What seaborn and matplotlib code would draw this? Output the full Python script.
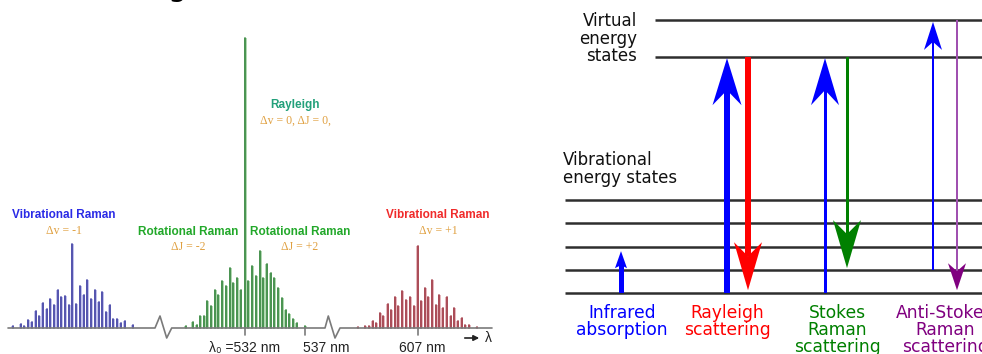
import numpy as np
import pandas as pd
import matplotlib
matplotlib.use("Agg")
import matplotlib.pyplot as plt
import seaborn as sns
from matplotlib.patches import Polygon, Rectangle

sns.set_theme(style="white")
plt.rcParams['font.family'] = ['DejaVu Sans']

# ---------------- spectrum data (position along broken wavelength axis, intensity)
blue_x = [12.7, 20.7, 24.0, 28.0, 31.7, 35.7, 39.0, 42.7, 46.7, 50.0, 54.0, 57.7, 61.3, 65.0,
          69.0, 72.3, 76.0, 80.0, 83.7, 87.3, 91.3, 95.0, 98.7, 102.3, 106.0, 109.7, 113.3,
          117.0, 120.7, 124.7, 132.7]
blue_h = [2, 4, 2, 8, 6, 17, 12, 25, 19, 29, 23, 38, 31, 32, 23, 84, 24, 42, 33, 48, 29, 38,
          26, 36, 16, 23, 9, 9, 5, 7, 3]

green_x = [185.7, 192.7, 196.7, 200.0, 204.0, 207.3, 211.0, 215.0, 218.3, 222.3, 226.0, 230.0,
           233.3, 237.3, 240.7, 245.0, 248.3, 252.3, 256.0, 260.0, 263.3, 266.7, 270.7, 274.3,
           278.3, 282.3, 285.7, 289.3, 293.3, 296.7, 305.0]
green_h = [2, 6, 3, 12, 12, 27, 22, 38, 33, 47, 42, 60, 45, 50, 38, 290, 47, 62, 52, 77, 50,
           64, 55, 50, 40, 30, 18, 14, 9, 5, 2]

red_x = [357.7, 365.0, 369.0, 372.7, 376.0, 380.0, 383.3, 387.7, 391.0, 395.0, 398.3, 402.3,
         406.0, 410.0, 414.0, 417.7, 421.0, 425.0, 428.3, 432.3, 436.0, 439.3, 442.7, 446.7,
         450.7, 454.3, 457.7, 461.7, 465.0, 469.0, 476.7]
red_h = [1, 2, 2.3, 7.3, 5, 15, 11.7, 24, 18.3, 30.7, 21.7, 37.3, 28.3, 30.7, 21.7, 81.7, 26.7,
         40, 30.7, 47.7, 23.3, 33.3, 20, 30.7, 11.7, 20, 6.7, 10, 2.7, 3.3, 1]

tick_pos = [245, 305, 418]
tick_labels = ["λ₀ =532 nm", "537 nm", "607 nm"]

# ---------------- energy diagram data (energy units)
vib_levels = [0, 1, 2, 3, 4]
virtual_levels = [10.15, 11.75]
bottom_labels = ["Infrared\nabsorption", "Rayleigh\nscattering",
                 "Stokes\nRaman\nscattering", "Anti-Stokes\nRaman\nscattering"]

fig = plt.figure(figsize=(9.82, 3.54), dpi=100)

# ================= left panel: spectrum =================
ax1 = fig.add_axes([0, 0, 500 / 982, 1])
ax1.set_xlim(0, 500)
ax1.set_ylim(-26, 328)
ax1.axis('off')


def sticks(xs, hs):
    rows = []
    for i, (x, h) in enumerate(zip(xs, hs)):
        rows.append((i, x, 0.0))
        rows.append((i, x, h))
    return pd.DataFrame(rows, columns=['id', 'x', 'y'])


groups = [(blue_x, blue_h, '#4646a6', '#c2c2ec'),
          (green_x, green_h, '#3c8a44', '#b2d8b2'),
          (red_x, red_h, '#a33e4a', '#e6b8be')]
for xs, hs, dark, light in groups:
    ax1.bar(xs, hs, width=3.0, color=light, linewidth=0, zorder=1)
    sns.lineplot(data=sticks(xs, hs), x='x', y='y', units='id', estimator=None, sort=False,
                 color=dark, lw=1.25, ax=ax1, legend=False, zorder=2)

# broken baseline
base_col = '#7a7a7a'
ax1.plot([8, 155, 160, 166.7, 171.7, 325, 328.3, 335, 340, 492],
         [0, 0, 12, -10, 0, 0, 12, -10, 0, 0], color=base_col, lw=1.2, zorder=3)
for t in tick_pos:
    ax1.plot([t, t], [0, -7], color=base_col, lw=1.2, zorder=3)
ax1.text(245, -20, tick_labels[0], ha='center', va='center', fontsize=10,
         family=['Liberation Sans', 'DejaVu Sans'], color='#222222')
ax1.text(326, -20, tick_labels[1], ha='center', va='center', fontsize=10,
         family=['Liberation Sans', 'DejaVu Sans'], color='#222222')
ax1.text(422, -20, tick_labels[2], ha='center', va='center', fontsize=10,
         family=['Liberation Sans', 'DejaVu Sans'], color='#222222')
ax1.annotate('', xy=(482, -10), xytext=(462, -10),
             arrowprops=dict(arrowstyle='-|>', color='#222222', lw=1.2, mutation_scale=8))
ax1.text(485, -10, 'λ', ha='left', va='center', fontsize=10,
         family=['Liberation Sans', 'DejaVu Sans'], color='#222222')

lab = dict(ha='center', va='center', fontsize=8.5, fontweight='bold',
           family=['Liberation Sans', 'DejaVu Sans'])
sub = dict(ha='center', va='center', fontsize=8.5, color='#e0a040',
           family=['Liberation Serif', 'DejaVu Serif'])
ax1.text(64, 113, 'Vibrational Raman', color='#2a2ae6', **lab)
ax1.text(64, 97, 'Δv = -1', **sub)
ax1.text(188, 96, 'Rotational Raman', color='#22a82a', **lab)
ax1.text(188, 81, 'ΔJ = -2', **sub)
ax1.text(300, 96, 'Rotational Raman', color='#22a82a', **lab)
ax1.text(300, 81, 'ΔJ = +2', **sub)
ax1.text(438, 113, 'Vibrational Raman', color='#f02a2a', **lab)
ax1.text(438, 97, 'Δv = +1', **sub)
ax1.text(295, 223, 'Rayleigh', color='#22a07a', **lab)
ax1.text(295, 207, 'Δv = 0, ΔJ = 0,', **sub)
ax1.text(177, 332.5, 'g', ha='center', va='baseline', fontsize=22, color='black')

# ================= right panel: energy diagram =================
PX = 23.25  # pixels per energy unit
ax2 = fig.add_axes([500 / 982, 0, 482 / 982, 1])
ax2.set_xlim(500, 982)
ax2.set_ylim(-(354 - 293) / PX, 293 / PX)
ax2.axis('off')

lvl_col = '#2e2e2e'
ax2.hlines(vib_levels, 565, 982, color=lvl_col, lw=1.8)
ax2.hlines(virtual_levels, 655, 982, color=lvl_col, lw=1.8)


def arrow(x, y0, y1, shaft, head_w, head_l, notch, color, head_color=None):
    """Vertical arrow from energy y0 to y1; sizes in pixels."""
    hc = head_color or color
    d = 1 if y1 > y0 else -1
    L = head_l / PX
    n = notch / PX
    back = y1 - d * L
    join = back + d * n
    ax2.add_patch(Rectangle((x - shaft / 2, min(y0, join)), shaft, abs(join - y0),
                            color=color, lw=0, zorder=4))
    ax2.add_patch(Polygon([(x, y1), (x + head_w / 2, back), (x, join), (x - head_w / 2, back)],
                          closed=True, color=hc, lw=0, zorder=5))


blue = '#0000ff'
arrow(621, 0, 1.8, 5, 12, 17, 3, blue)
arrow(727, 0, 10.1, 6, 29, 47, 15, blue)
arrow(748, 10.15, 0.12, 6, 28, 48, 14, '#ff0000')
arrow(825, 0, 10.1, 3, 28, 47, 15, blue)
arrow(847, 10.15, 1.07, 3, 28, 48, 14, '#008000')
arrow(933, 1, 11.66, 2, 18, 28, 8, blue)
arrow(957, 11.75, 0.12, 2, 18, 27, 8, '#a050b0', head_color='#800080')

ax2.text(637, (293 - 38.5) / PX, 'Virtual\nenergy\nstates', ha='right', va='center',
         multialignment='right', fontsize=12, linespacing=0.95, color='#111111')
ax2.text(563, (293 - 169) / PX, 'Vibrational\nenergy states', ha='left', va='center',
         multialignment='left', fontsize=12, linespacing=0.95, color='#111111')

label_x = [622, 727, 837, 945]
label_col = ['#0000ff', '#ff0000', '#008000', '#800080']
for lx, txt, c in zip(label_x, bottom_labels, label_col):
    ax2.text(lx, (293 - 304) / PX, txt, ha='center', va='top', multialignment='center',
             fontsize=12.3, linespacing=0.92, color=c)

fig.savefig('out.png', dpi=100)
